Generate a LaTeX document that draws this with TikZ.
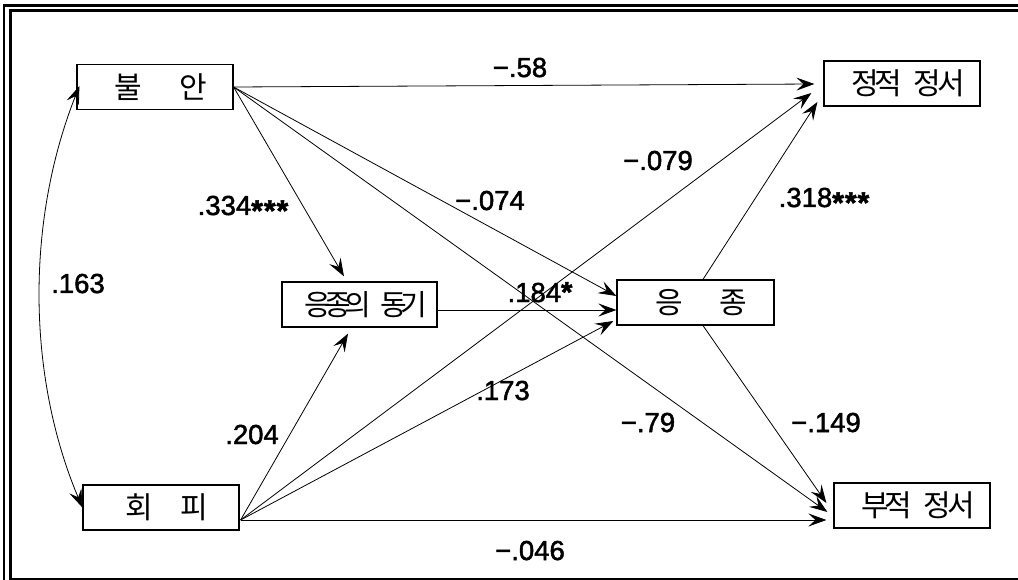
\documentclass[tikz,border=0pt]{standalone}
\usepackage{fontspec}
\setmainfont{Liberation Sans}
\newfontfamily\numfont[FakeBold=1.8]{Liberation Sans}
\newfontfamily\krfont{Noto Sans CJK KR}
\usetikzlibrary{arrows.meta,calc}
\newcommand\sigstar{\raisebox{-6pt}{\fontsize{30}{30}\selectfont\bfseries *}}
\newcommand\topstar{{\fontsize{29}{29}\selectfont\bfseries *}}
\begin{document}
\begin{tikzpicture}[x=1pt,y=-1pt,
  box/.style={draw, line width=1.2pt, minimum width=156pt, minimum height=45pt, inner sep=0pt,
    font=\krfont\fontsize{30}{30}\selectfont, execute at begin node={\hspace*{12pt}}},
  arr/.tip={Stealth[length=18pt,width=13pt,inset=7pt]},
  conn/.style={line width=0.8pt, -{arr}},
  lab/.style={font=\numfont\fontsize{27.5}{27.5}\selectfont, inner sep=0pt, anchor=base}]
\useasboundingbox (0,0) rectangle (1018,580);
\clip (0,0) rectangle (1018,580);
% frame
\draw[line width=2.6pt] (4,5.5) rectangle (1040,600);
\draw[line width=3pt] (10.5,10.5) rectangle (1030,579.5);
% boxes
\node[box] (anx) at (155,87) {불\hspace{38pt}안};
\node[box] (hp) at (161,507.5) {회\hspace{27pt}피};
\node[box] (js) at (902,83.5) {정\kern-4pt 적\hspace{11pt}정\kern-4pt 서};
\node[box] (bj) at (912,505.5) {부\kern-4pt 적\hspace{11pt}정\kern-4pt 서};
\node[box, minimum width=155pt, font=\krfont\fontsize{29}{29}\selectfont] (md) at (359.5,304.5) {응\kern-6.5pt 종\kern-6.5pt 의\hspace{9pt}동\kern-6.5pt 기};
\node[box, minimum width=157pt] (ej) at (695.5,302.5) {응\hspace{36pt}종};
% start points
\coordinate (hpo) at ($(hp.east)+(1,12.5)$);
% connectors from 불안
\draw[conn] (anx.east) -- ($(js.west)+(-9,0.5)$);
\draw[conn] (anx.east) -- ($(md.north)+(-15.5,-5)$);
\draw[conn] (anx.east) -- ($(ej.west)+(0,-6.5)$);
\draw[conn] (anx.east) -- ($(bj.west)+(-6,6.5)$);
% connectors from 회피
\draw[conn] (hpo) -- ($(js.west)+(-12,9.5)$);
\draw[conn] (hpo) -- ($(md.south)+(-11.5,6)$);
\draw[conn] (hpo) -- ($(ej.west)+(-3,18.5)$);
\draw[conn] (hpo) -- ($(bj.west)+(-7,14.5)$);
% from 응종의 동기
\draw[conn] ($(md.east)+(0,5.5)$) -- ($(ej.west)+(0,7.5)$);
% from 응종
\draw[conn] ($(ej.north)+(7.5,0)$) -- ($(js.west)+(-6,18.5)$);
\draw[conn] ($(ej.south)+(7.5,0)$) -- ($(bj.west)+(-7,-2.5)$);
% correlation
\draw[line width=0.8pt, {arr}-{arr}]
  ($(anx.west)+(3,-1)$) .. controls ($(anx.west)+(-50,133)$) and ($(hp.west)+(-56,-133)$) .. ($(hp.west)+(0,0)$);
% labels
\node[lab] (l1) at (520,77) {−.58};
\node[lab] (l2) at (243,215) {.334\sigstar\kern1pt\sigstar\kern1pt\sigstar};
\node[lab] (l3) at (490,210) {−.074};
\node[lab] (l4) at (658,170) {−.079};
\node[lab] (l5) at (824,207) {.318\sigstar\kern1pt\sigstar\kern1pt\sigstar};
\node[lab] (l6) at (78,293) {.163};
\node[lab] (l7) at (540,302) {.184\topstar};
\node[lab] (l8) at (252,444) {.204};
\node[lab] (l9) at (503,400) {.173};
\node[lab] (l10) at (648,432) {−.79};
\node[lab] (l11) at (826,432) {−.149};
\node[lab] (l12) at (530,560) {−.046};
\end{tikzpicture}
\end{document}
